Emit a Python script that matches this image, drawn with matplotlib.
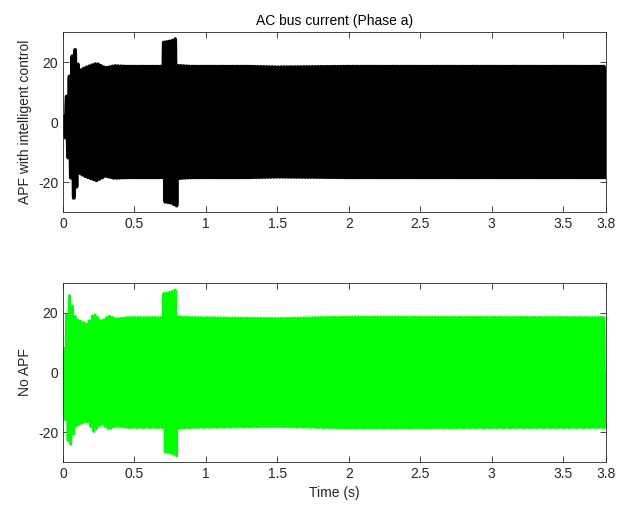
import numpy as np
import matplotlib.pyplot as plt

plt.rcParams['font.family'] = ['Liberation Sans', 'DejaVu Sans']
plt.rcParams['font.size'] = 10
plt.rcParams['axes.unicode_minus'] = False
plt.rcParams['path.simplify'] = False

# 포락선 (envelope) 값: 그림에서 읽은 값
t_env_apf = [0.0, 0.077, 0.114, 0.15, 0.236, 0.296, 0.36, 0.45, 0.699, 0.701, 0.76, 0.799,
             0.801, 0.9, 1.3, 1.5, 2.0, 3.8]
a_env_apf = [0.0, 26.0, 17.0, 18.0, 19.5, 18.0, 18.7, 18.5, 18.5, 26.5, 27.0, 28.0,
             18.8, 18.5, 18.5, 18.3, 18.5, 18.5]

t_env_no = [0.0, 0.01, 0.044, 0.09, 0.17, 0.215, 0.27, 0.32, 0.37, 0.45, 0.699, 0.701,
            0.76, 0.799, 0.801, 0.9, 1.5, 2.0, 3.8]
a_env_no = [0.0, 14.0, 26.0, 18.0, 16.2, 19.8, 17.2, 19.0, 18.0, 18.5, 18.5, 26.5,
            27.2, 28.0, 18.8, 18.5, 18.2, 18.7, 18.5]

f_grid = 50.0
x_ticks = [0, 0.5, 1, 1.5, 2, 2.5, 3, 3.5, 3.8]
x_labels = ['0', '0.5', '1', '1.5', '2', '2.5', '3', '3.5', '3.8']
y_ticks = [-20, 0, 20]

t = np.arange(0, 3.8, 1e-4)
i_apf = np.interp(t, t_env_apf, a_env_apf) * np.sin(2 * np.pi * f_grid * t)
i_no = np.interp(t, t_env_no, a_env_no) * np.sin(2 * np.pi * f_grid * t)

fig = plt.figure(figsize=(6.19, 5.12), dpi=100)
ax1 = fig.add_axes([63 / 619, 1 - 212 / 512, 543 / 619, 180 / 512])
ax2 = fig.add_axes([63 / 619, 1 - 462 / 512, 543 / 619, 179 / 512])

ax1.plot(t, i_apf, color='black', lw=2.6)
ax2.plot(t, i_no, color='#00ff00', lw=1.9)

for ax in (ax1, ax2):
    ax.set_xlim(0, 3.8)
    ax.set_ylim(-30, 30)
    ax.set_xticks(x_ticks)
    ax.set_xticklabels(x_labels)
    ax.set_yticks(y_ticks)
    ax.tick_params(direction='in', top=True, right=True, colors='#262626',
                   length=4, width=0.6, labelsize=10)
    for s in ax.spines.values():
        s.set_color('#262626')
        s.set_linewidth(0.6)

ax1.set_title('AC bus current (Phase a)', fontsize=10, pad=5)
ax1.set_ylabel('APF with intelligent control', color='#262626')
ax2.set_ylabel('No APF', color='#262626')
ax2.set_xlabel('Time (s)', color='#262626')

fig.savefig('out.png', dpi=100)
